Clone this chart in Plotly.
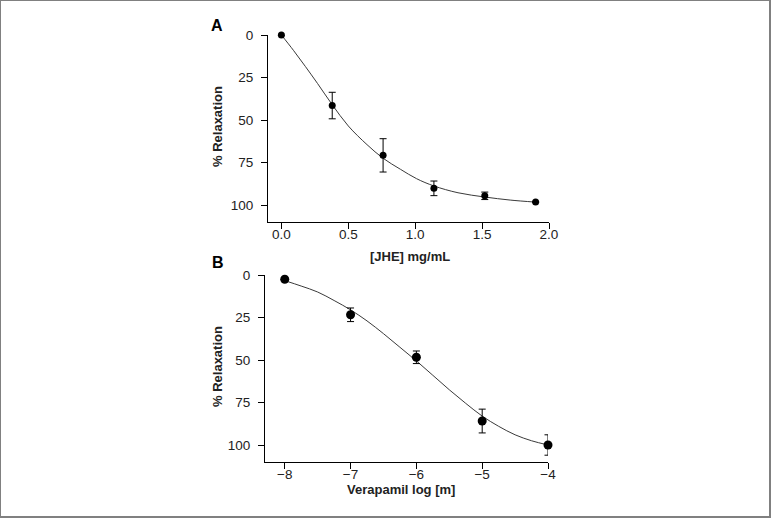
import plotly.graph_objects as go
from plotly.subplots import make_subplots

# Panel A: JHE concentration-response
jhe_x = [0.0, 0.38, 0.76, 1.14, 1.52, 1.90]
jhe_y = [0.0, 41.5, 70.8, 90.2, 94.6, 98.3]
jhe_err = [0.0, 7.8, 9.8, 4.3, 2.2, 0.0]
jhe_fit_x = [0.0, 0.09, 0.18, 0.27, 0.38, 0.5, 0.64, 0.76, 0.89, 1.01, 1.14, 1.32, 1.52, 1.71, 1.90]
jhe_fit_y = [0.0, 9.0, 18.6, 28.5, 41.0, 53.5, 64.5, 72.5, 79.0, 84.5, 88.8, 92.8, 95.3, 97.1, 98.3]

# Panel B: Verapamil concentration-response
ver_x = [-8, -7, -6, -5, -4]
ver_y = [2.5, 23.4, 48.4, 85.9, 100.0]
ver_err = [0.0, 4.0, 3.7, 7.0, 6.0]
ver_fit_x = [-8.0, -7.75, -7.5, -7.25, -7.0, -6.75, -6.5, -6.25, -6.0, -5.75, -5.5, -5.25, -5.0, -4.75, -4.5, -4.25, -4.0]
ver_fit_y = [3.3, 6.5, 10.0, 15.0, 20.5, 27.0, 34.5, 42.5, 50.5, 59.0, 67.5, 75.5, 83.0, 89.0, 94.0, 97.5, 100.0]

y_ticks = [0, 25, 50, 75, 100]
jhe_ticks = [0.0, 0.5, 1.0, 1.5, 2.0]
ver_ticks = [-8, -7, -6, -5, -4]

FONT = "Liberation Sans Narrow, Arial Narrow, Liberation Sans, Arial, sans-serif"
W, H = 771, 518
ML, MR, MT, MB = 265, 222, 35, 56
PW, PH = W - ML - MR, H - MT - MB

def px(x):
    return (x - ML) / PW

def py(y):
    return (H - MB - y) / PH

fig = make_subplots(rows=2, cols=1)

fig.add_trace(go.Scatter(x=jhe_fit_x, y=jhe_fit_y, mode="lines",
                         line=dict(color="#3a3a3a", width=1, shape="spline"),
                         showlegend=False, hoverinfo="skip", cliponaxis=False), row=1, col=1)
fig.add_trace(go.Scatter(x=jhe_x, y=jhe_y, mode="markers",
                         marker=dict(color="black", size=7),
                         error_y=dict(type="data", array=jhe_err, color="black",
                                      thickness=1, width=3.5),
                         showlegend=False, cliponaxis=False), row=1, col=1)

fig.add_trace(go.Scatter(x=ver_fit_x, y=ver_fit_y, mode="lines",
                         line=dict(color="#3a3a3a", width=1, shape="spline"),
                         showlegend=False, hoverinfo="skip", cliponaxis=False), row=2, col=1)
fig.add_trace(go.Scatter(x=ver_x, y=ver_y, mode="markers",
                         marker=dict(color="black", size=9),
                         error_y=dict(type="data", array=ver_err, color="black",
                                      thickness=1, width=3.5),
                         showlegend=False, cliponaxis=False), row=2, col=1)

axis_common = dict(showline=True, linecolor="black", linewidth=1, ticks="outside",
                   ticklen=6, tickcolor="black", tickwidth=1, showgrid=False,
                   zeroline=False, tickfont=dict(family=FONT, size=13.5, color="#222"))

fig.update_xaxes(**axis_common, ticklabelstandoff=-6)
fig.update_yaxes(**axis_common, ticklabelstandoff=5)

fig.update_xaxes(range=[-0.1, 2.0], tickvals=jhe_ticks, ticktext=["0.0", "0.5", "1.0", "1.5", "2.0"],
                 domain=[px(268), 1.0], row=1, col=1)
fig.update_xaxes(range=[-8.3, -4.0], tickvals=ver_ticks, ticktext=["\u22128", "\u22127", "\u22126", "\u22125", "\u22124"],
                 domain=[0.0, px(548)], row=2, col=1)
fig.update_yaxes(range=[110, 0], tickvals=y_ticks, domain=[py(222), py(35)], row=1, col=1)
fig.update_yaxes(range=[110, 0], tickvals=y_ticks, domain=[py(462), py(275)], row=2, col=1)

title_font = dict(family=FONT, size=13, color="#222")
annots = [
    dict(text="<b>A</b>", x=px(217), y=py(26), font=dict(family=FONT, size=16, color="black")),
    dict(text="<b>B</b>", x=px(218), y=py(262), font=dict(family=FONT, size=16, color="black")),
    dict(text="<b>% Relaxation</b>", x=px(217), y=py(127), textangle=-90, font=title_font),
    dict(text="<b>% Relaxation</b>", x=px(217), y=py(367), textangle=-90, font=title_font),
    dict(text="<b>[JHE] mg/mL</b>", x=px(410), y=py(256), font=title_font),
    dict(text="<b>Verapamil log [m]</b>", x=px(401), y=py(489), font=title_font),
]
for a in annots:
    fig.add_annotation(xref="paper", yref="paper", showarrow=False,
                       xanchor="center", yanchor="middle", **a)

fig.add_shape(type="rect", xref="paper", yref="paper",
              x0=px(0), x1=px(770), y0=py(517), y1=py(0),
              line=dict(color="#808080", width=2), fillcolor="rgba(0,0,0,0)", layer="above")

fig.update_layout(width=W, height=H, margin=dict(l=ML, r=MR, t=MT, b=MB),
                  plot_bgcolor="white", paper_bgcolor="white",
                  font=dict(family=FONT, color="#222"))

fig.write_html("out.html", config={"displayModeBar": False},
               post_script="document.body.style.margin='0';document.body.style.overflow='hidden';")
